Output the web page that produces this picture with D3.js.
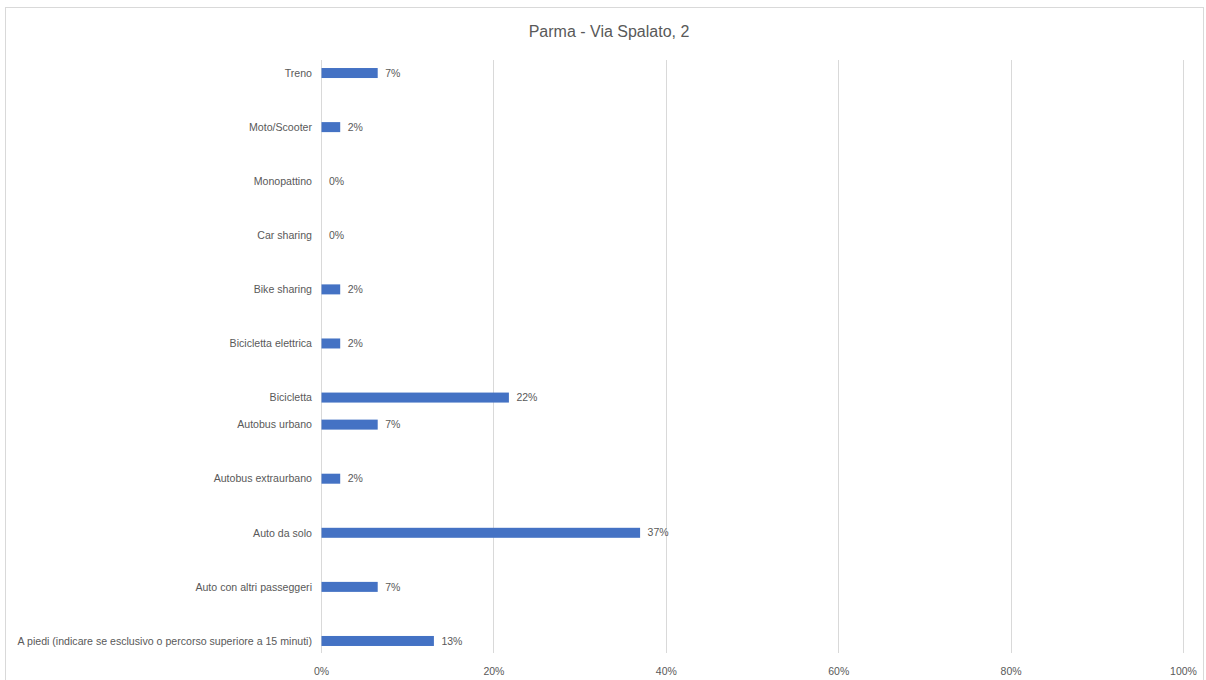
<!DOCTYPE html>
<html>
<head>
<meta charset="utf-8">
<script src="https://cdn.jsdelivr.net/npm/d3@7"></script>
<style>
  html, body { margin: 0; padding: 0; background: #fff; }
  svg { display: block; }
  text { font-family: "Liberation Sans", "DejaVu Sans", sans-serif; fill: #595959; }
</style>
</head>
<body>
<svg id="chart" width="1206" height="680"></svg>
<script>
const title = "Parma - Via Spalato, 2";
const categories = [
  "Treno",
  "Moto/Scooter",
  "Monopattino",
  "Car sharing",
  "Bike sharing",
  "Bicicletta elettrica",
  "Bicicletta",
  "Autobus urbano",
  "Autobus extraurbano",
  "Auto da solo",
  "Auto con altri passeggeri",
  "A piedi (indicare se esclusivo o percorso superiore a 15 minuti)"
];
const values = [6.52, 2.17, 0, 0, 2.17, 2.17, 21.74, 6.52, 2.17, 36.96, 6.52, 13.04];
const rowSlot = [0, 1, 2, 3, 4, 5, 6, 6.5, 7.5, 8.5, 9.5, 10.5];
const xTicks = [0, 20, 40, 60, 80, 100];

const svg = d3.select("#chart");
const plot = { left: 321, right: 1183, top: 60, bottom: 653 };

// outer chart frame
svg.append("rect")
  .attr("x", 5.5).attr("y", 7.5)
  .attr("width", 1198).attr("height", 690)
  .attr("fill", "#fff").attr("stroke", "#d9d9d9").attr("stroke-width", 1);

svg.append("text")
  .attr("x", 609).attr("y", 37)
  .attr("text-anchor", "middle")
  .style("font-size", "16px")
  .text(title);

const x = d3.scaleLinear().domain([0, 100]).range([plot.left, plot.right]);
const y = d3.scaleLinear().domain([-0.25, 10.75]).range([59.5, 654.5]);
const barH = 10;

// gridlines
svg.append("g").selectAll("line").data(xTicks).join("line")
  .attr("x1", d => Math.round(x(d)) + 0.5).attr("x2", d => Math.round(x(d)) + 0.5)
  .attr("y1", plot.top).attr("y2", plot.bottom)
  .attr("stroke", "#d9d9d9").attr("stroke-width", 1);

// x axis labels
const xAxis = d3.axisBottom(x).tickValues(xTicks).tickFormat(d => d + "%").tickSize(0).tickPadding(0);
const gx = svg.append("g").attr("transform", `translate(0,${plot.bottom + 22})`).call(xAxis);
gx.select(".domain").remove();
gx.selectAll("text").attr("dy", 0).style("font-size", "10.5px").style("font-family", "'Liberation Sans', sans-serif").style("fill", "#595959");

const data = categories.map((c, i) => ({ c, v: values[i], s: rowSlot[i] }));

// bars
svg.append("g").selectAll("rect").data(data).join("rect")
  .attr("x", x(0) + 0.5)
  .attr("y", d => y(d.s) - barH / 2)
  .attr("width", d => Math.max(0, x(d.v) - x(0)))
  .attr("height", barH)
  .attr("fill", "#4472C4");

// category labels
svg.append("g").selectAll("text").data(data).join("text")
  .attr("x", plot.left - 9)
  .attr("y", d => y(d.s))
  .attr("dy", "0.35em")
  .attr("text-anchor", "end")
  .style("font-size", "10.6px")
  .text(d => d.c);

// value labels
svg.append("g").selectAll("text").data(data).join("text")
  .attr("x", d => x(d.v) + 8)
  .attr("y", d => y(d.s))
  .attr("dy", "0.35em")
  .style("font-size", "10.5px")
  .text(d => Math.round(d.v) + "%");
</script>
</body>
</html>
